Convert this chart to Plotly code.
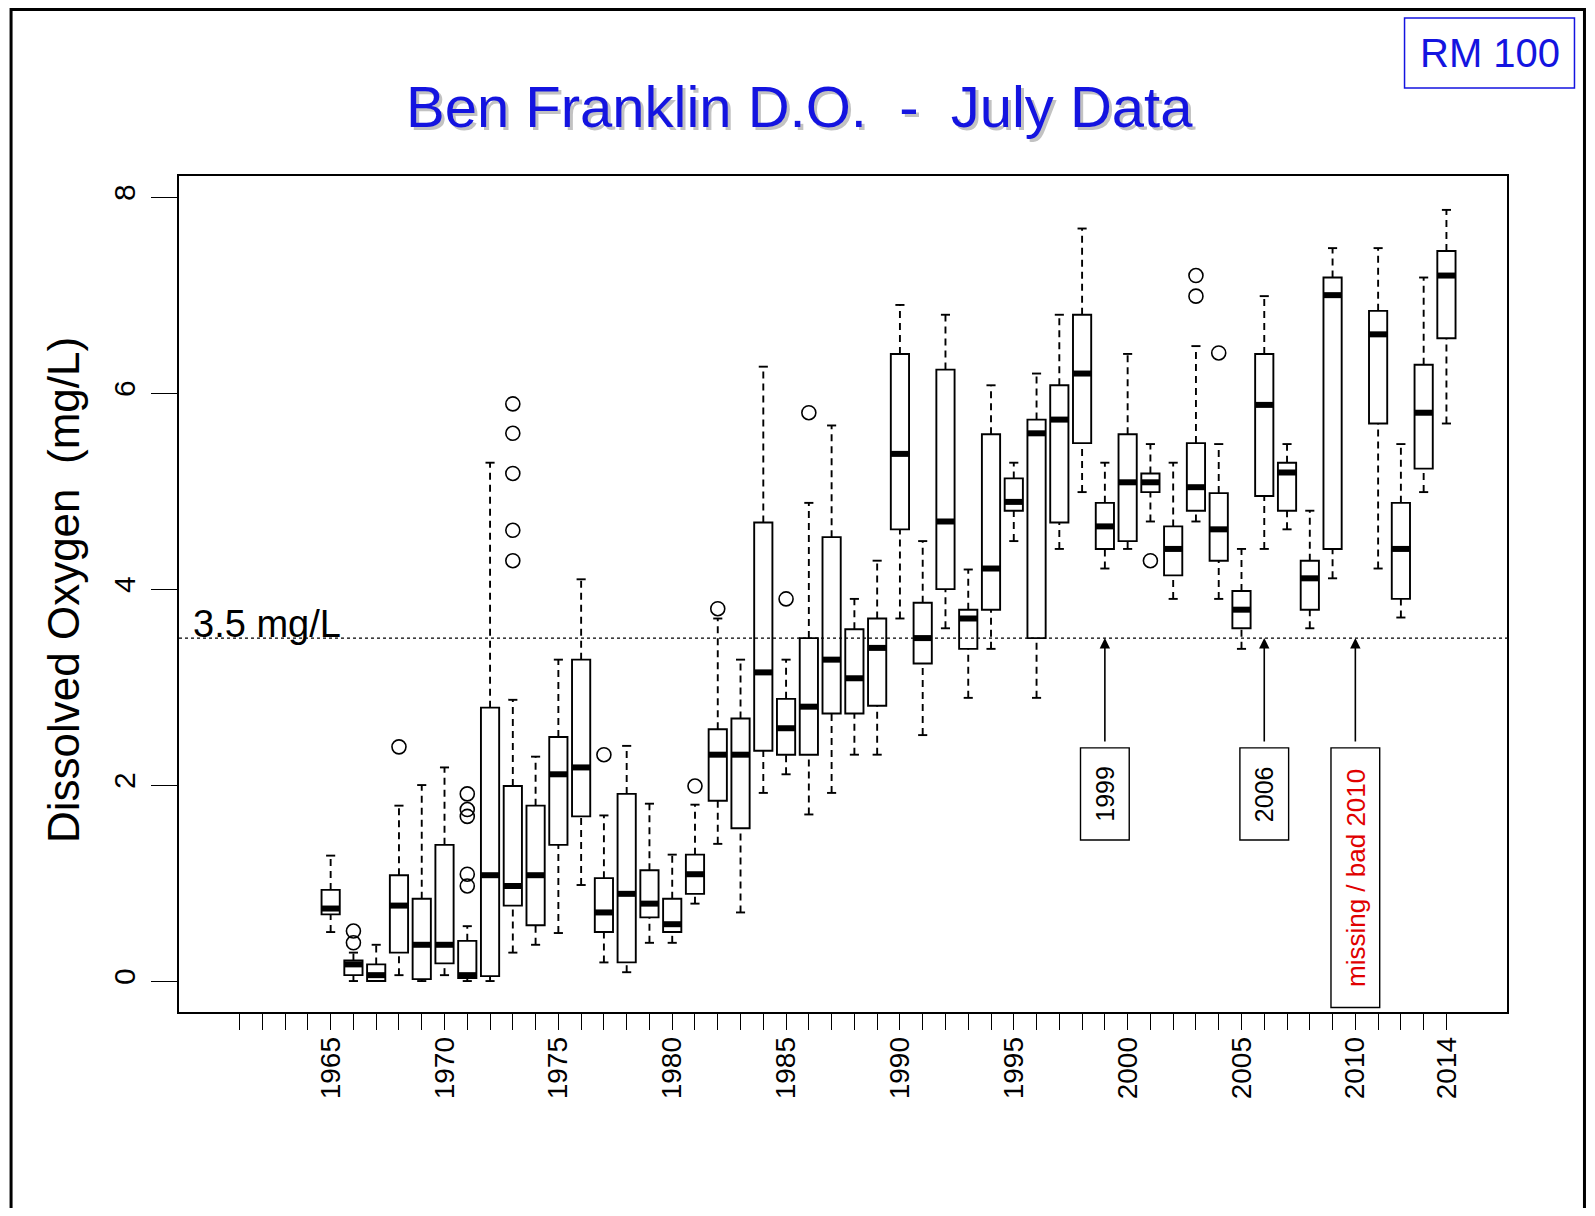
import plotly.graph_objects as go

# ---------------- data ----------------
years = list(range(1965, 2010)) + [2011, 2012, 2013, 2014]

whisker_low = [0.50, 0.00, 0.00, 0.06, 0.00, 0.06, 0.00, 0.00, 0.29, 0.37,
               0.49, 0.98, 0.19, 0.09, 0.39, 0.39, 0.79, 1.40, 0.70, 1.92,
               2.11, 1.70, 1.92, 2.31, 2.31, 3.70, 2.51, 3.60, 2.89, 3.39,
               4.49, 2.89, 4.41, 4.99, 4.21, 4.41, 4.69, 3.90, 4.69, 3.90,
               3.39, 4.41, 4.61, 3.60, 4.11, 4.21, 3.71, 4.99, 5.69]
q1 = [0.68, 0.06, 0.00, 0.29, 0.02, 0.18, 0.03, 0.05, 0.77, 0.57,
      1.39, 1.68, 0.50, 0.19, 0.65, 0.50, 0.89, 1.84, 1.56, 2.35,
      2.31, 2.31, 2.73, 2.73, 2.81, 4.61, 3.24, 4.00, 3.39, 3.79,
      4.80, 3.50, 4.68, 5.49, 4.41, 4.49, 4.99, 4.14, 4.80, 4.29,
      3.60, 4.95, 4.80, 3.79, 4.41, 5.69, 3.90, 5.23, 6.56]
median = [0.74, 0.17, 0.06, 0.77, 0.37, 0.37, 0.06, 1.08, 0.97, 1.08,
          2.11, 2.18, 0.70, 0.89, 0.79, 0.58, 1.09, 2.31, 2.31, 3.15,
          2.58, 2.80, 3.28, 3.09, 3.40, 5.38, 3.50, 4.69, 3.70, 4.21,
          4.89, 5.59, 5.73, 6.20, 4.64, 5.09, 5.09, 4.41, 5.04, 4.61,
          3.79, 5.88, 5.19, 4.11, 7.00, 6.60, 4.41, 5.80, 7.20]
q3 = [0.93, 0.21, 0.17, 1.08, 0.84, 1.39, 0.41, 2.79, 1.99, 1.79,
      2.49, 3.28, 1.05, 1.91, 1.13, 0.84, 1.29, 2.57, 2.68, 4.68,
      2.88, 3.50, 4.53, 3.59, 3.70, 6.40, 3.86, 6.24, 3.79, 5.58,
      5.13, 5.73, 6.08, 6.80, 4.88, 5.58, 5.18, 4.64, 5.49, 4.98,
      3.98, 6.40, 5.29, 4.29, 7.18, 6.84, 4.88, 6.29, 7.45]
whisker_high = [1.28, 0.29, 0.37, 1.79, 2.00, 2.18, 0.56, 5.29, 2.87, 2.29,
                3.28, 4.10, 1.69, 2.40, 1.81, 1.29, 1.80, 3.70, 3.28, 6.27,
                3.28, 4.88, 5.67, 3.90, 4.29, 6.90, 4.49, 6.80, 4.20, 6.08,
                5.29, 6.20, 6.80, 7.68, 5.29, 6.40, 5.48, 5.29, 6.48, 5.48,
                4.41, 6.99, 5.48, 4.80, 7.48, 7.48, 5.48, 7.18, 7.87]

outlier_years = [1966, 1966, 1968, 1971, 1971, 1971, 1971, 1971,
                 1973, 1973, 1973, 1973, 1973, 1977, 1981, 1982, 1985, 1986,
                 2001, 2003, 2003, 2004]
outlier_values = [0.39, 0.51, 2.39, 0.97, 1.09, 1.68, 1.75, 1.91,
                  4.29, 4.60, 5.18, 5.59, 5.89, 2.31, 1.99, 3.80, 3.90, 5.80,
                  4.29, 6.99, 7.20, 6.41]

tick_years = list(range(1961, 2015))
labelled_years = [1965, 1970, 1975, 1980, 1985, 1990, 1995, 2000, 2005, 2010, 2014]
threshold = 3.5
threshold_label = "3.5 mg/L"
note_years = [1999, 2006, 2010]
note_texts = ["1999", "2006", "missing / bad 2010"]
note_colors = ["black", "black", "#e00000"]
note_font_sizes = [25, 25, 26]
note_box_bottom = [1.44, 1.44, -0.27]
note_box_top = 2.38

title_text = "Ben Franklin D.O.  -  July Data"
tag_text = "RM 100"
y_title = "Dissolved Oxygen  (mg/L)"

# ---------------- styles / geometry ----------------
BOX_W = 0.8
CAP_HALF = 0.2
FONT = "Liberation Sans, Arial, Helvetica, sans-serif"
BLUE = "#1414e0"
OFF = 8                       # default page body margin
W, H = 1595 - 2 * OFF, 1216 - 2 * OFF
PLOT_L, PLOT_R, PLOT_T, PLOT_B = 179, 1507.5, 176, 1012   # page px
L = PLOT_L - OFF
T = PLOT_T - OFF
R = W - (PLOT_R - OFF)
B = H - (PLOT_B - OFF)
PW, PH = W - L - R, H - T - B


def px_x(px):   # page px -> paper x
    return (px - PLOT_L) / PW


def px_y(py):   # page px -> paper y
    return (PLOT_B - py) / PH


fig = go.Figure()

# whiskers (dashed)
wx, wy = [], []
for x, lo, a, b, hi in zip(years, whisker_low, q1, q3, whisker_high):
    wx += [x, x, None, x, x, None]
    wy += [b, hi, None, lo, a, None]
fig.add_trace(go.Scatter(x=wx, y=wy, mode="lines",
                         line=dict(color="black", width=1.9, dash="7px,5px"),
                         hoverinfo="skip", showlegend=False))

# whisker caps
cx, cy = [], []
for x, lo, hi in zip(years, whisker_low, whisker_high):
    cx += [x - CAP_HALF, x + CAP_HALF, None, x - CAP_HALF, x + CAP_HALF, None]
    cy += [hi, hi, None, lo, lo, None]
fig.add_trace(go.Scatter(x=cx, y=cy, mode="lines",
                         line=dict(color="black", width=1.9),
                         hoverinfo="skip", showlegend=False))

# boxes
fig.add_trace(go.Box(x=years, q1=q1, median=median, q3=q3,
                     lowerfence=q1, upperfence=q3, width=BOX_W,
                     fillcolor="white", line=dict(color="black", width=1.9),
                     whiskerwidth=0, boxpoints=False,
                     hoverinfo="skip", showlegend=False))

# thick medians
mx, my = [], []
for x, m in zip(years, median):
    mx += [x - BOX_W / 2, x + BOX_W / 2, None]
    my += [m, m, None]
fig.add_trace(go.Scatter(x=mx, y=my, mode="lines",
                         line=dict(color="black", width=6),
                         hoverinfo="skip", showlegend=False))

# outliers
fig.add_trace(go.Scatter(x=outlier_years, y=outlier_values, mode="markers",
                         marker=dict(symbol="circle-open", size=14, color="black",
                                     line=dict(width=1.6)),
                         hoverinfo="skip", showlegend=False))

# threshold line
fig.add_shape(type="line", xref="paper", yref="y", x0=0, x1=1,
              y0=threshold, y1=threshold,
              line=dict(color="black", width=1.3, dash="3px,3px"))
fig.add_annotation(xref="paper", yref="y", x=0, y=threshold, text=threshold_label,
                   showarrow=False, xanchor="left", yanchor="bottom",
                   xshift=12, yshift=-9,
                   font=dict(family=FONT, size=38, color="black"))

# note boxes + arrows
for yr, txt, col, fs, y0 in zip(note_years, note_texts, note_colors,
                                note_font_sizes, note_box_bottom):
    fig.add_shape(type="rect", xref="x", yref="y",
                  x0=yr - 1.07, x1=yr + 1.07, y0=y0, y1=note_box_top,
                  fillcolor="white", line=dict(color="black", width=1.4),
                  layer="above")
    fig.add_annotation(xref="x", yref="y", x=yr, y=threshold,
                       ax=yr, ay=note_box_top + 0.05, axref="x", ayref="y",
                       showarrow=True, arrowhead=2, arrowsize=1.3, arrowwidth=1.6,
                       arrowcolor="black", text="")
    fig.add_annotation(xref="x", yref="y", x=yr, y=(y0 + note_box_top) / 2,
                       text=txt, textangle=-90, showarrow=False,
                       xanchor="center", yanchor="middle",
                       font=dict(family=FONT, size=fs, color=col))

# title with soft shadow
tx, ty = px_x(800), px_y(106)
fig.add_annotation(xref="paper", yref="paper", x=tx, y=ty, text=title_text,
                   showarrow=False, xanchor="center", yanchor="middle",
                   xshift=3, yshift=-3,
                   font=dict(family=FONT, size=58, color="rgba(120,120,120,0.45)"))
fig.add_annotation(xref="paper", yref="paper", x=tx, y=ty, text=title_text,
                   showarrow=False, xanchor="center", yanchor="middle",
                   font=dict(family=FONT, size=58, color=BLUE))

# RM 100 tag
fig.add_shape(type="rect", xref="paper", yref="paper",
              x0=px_x(1405), x1=px_x(1575), y0=px_y(88), y1=px_y(18),
              line=dict(color=BLUE, width=1.5), fillcolor="white")
fig.add_annotation(xref="paper", yref="paper", x=px_x(1490), y=px_y(53),
                   text=tag_text, showarrow=False,
                   xanchor="center", yanchor="middle",
                   font=dict(family=FONT, size=40, color=BLUE))

# y axis title
fig.add_annotation(xref="paper", yref="paper", x=px_x(63), y=px_y(590),
                   text=y_title, textangle=-90, showarrow=False,
                   xanchor="center", yanchor="middle",
                   font=dict(family=FONT, size=44, color="black"))

# outer frame
fig.add_shape(type="rect", xref="paper", yref="paper",
              x0=px_x(11), x1=px_x(1585), y0=px_y(1240), y1=px_y(9.5),
              line=dict(color="black", width=3))

tick_text = [str(y) if y in labelled_years else "" for y in tick_years]

fig.update_layout(
    width=W, height=H, autosize=False,
    margin=dict(l=L, r=R, t=T, b=B, pad=0, autoexpand=False),
    paper_bgcolor="white", plot_bgcolor="white",
    font=dict(family=FONT, color="black"),
    showlegend=False,
    xaxis=dict(range=[1958.34, 2016.66], tickmode="array", tickvals=tick_years,
               ticktext=tick_text, ticks="outside", ticklen=16, tickwidth=1.3,
               tickcolor="black", tickangle=-90, ticklabelstandoff=-4,
               tickfont=dict(family=FONT, size=28, color="black"),
               showgrid=False, zeroline=False, showline=True, mirror=True,
               linecolor="black", linewidth=1.6),
    yaxis=dict(range=[-0.316, 8.216], tickmode="array", tickvals=[0, 2, 4, 6, 8],
               ticks="outside", ticklen=26, tickwidth=1.3, tickcolor="black",
               tickangle=-90, ticklabelstandoff=4,
               tickfont=dict(family=FONT, size=30, color="black"),
               showgrid=False, zeroline=False, showline=True, mirror=True,
               linecolor="black", linewidth=1.6),
)

fig.write_html("out.html")
